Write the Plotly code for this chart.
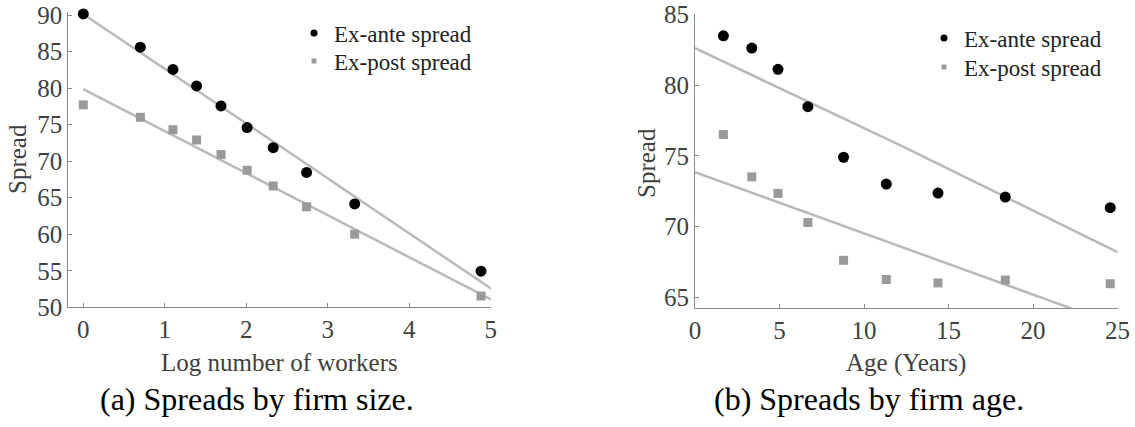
import plotly.graph_objects as go

# ---- Panel (a): spreads by firm size ----
size_x = [0.0, 0.70, 1.10, 1.39, 1.69, 2.01, 2.33, 2.74, 3.33, 4.88]
size_exante = [90.15, 85.6, 82.55, 80.3, 77.55, 74.6, 71.85, 68.45, 64.15, 54.95]
size_expost = [77.7, 76.0, 74.3, 72.9, 70.9, 68.75, 66.6, 63.75, 60.0, 51.55]
size_fit_x = [0.0, 2.48, 5.05]
size_fit_exante = [90.1, 71.55, 52.2]
size_fit_x2 = [0.0, 1.9, 5.05]
size_fit_expost = [79.86, 68.95, 50.8]

# ---- Panel (b): spreads by firm age ----
age_x = [1.68, 3.36, 4.91, 6.68, 8.79, 11.32, 14.38, 18.36, 24.57]
age_exante = [83.5, 82.63, 81.13, 78.48, 74.9, 73.0, 72.36, 72.08, 71.33]
age_expost = [76.51, 73.51, 72.34, 70.28, 67.6, 66.24, 66.0, 66.2, 65.94]
age_fit_x = [0.0, 12.5, 25.1]
age_fit_exante = [82.63, 75.55, 68.12]
age_fit_x2 = [0.0, 11.0, 22.81, 25.0]
age_fit_expost = [73.85, 69.1, 63.96, 63.0]

legend_names = ["Ex-ante spread", "Ex-post spread"]
captions = ["(a) Spreads by firm size.", "(b) Spreads by firm age."]
xtitles = ["Log number of workers", "Age (Years)"]
ytitle = "Spread"

W, H = 1135, 427
SERIF = "Liberation Serif, Times New Roman, serif"
LINE_C = "#b9b9b9"
SQ_C = "#9a9a9a"
AX_C = "#8a8a8a"
TXT_C = "#404040"

fig = go.Figure()


def add_panel(xa, ya, fx1, fy1, fx2, fy2, px, p1, p2, legs):
    fig.add_trace(go.Scatter(x=fx1, y=fy1, mode="lines", line=dict(color=LINE_C, width=2.5),
                             xaxis=xa, yaxis=ya, showlegend=False, hoverinfo="skip"))
    fig.add_trace(go.Scatter(x=fx2, y=fy2, mode="lines", line=dict(color=LINE_C, width=2.5),
                             xaxis=xa, yaxis=ya, showlegend=False, hoverinfo="skip"))
    fig.add_trace(go.Scatter(x=px, y=p2, mode="markers", cliponaxis=False,
                             marker=dict(symbol="square", size=9, color=SQ_C),
                             xaxis=xa, yaxis=ya, showlegend=False))
    fig.add_trace(go.Scatter(x=px, y=p1, mode="markers", cliponaxis=False,
                             marker=dict(symbol="circle", size=11, color="black"),
                             xaxis=xa, yaxis=ya, showlegend=False))
    # legend-only entries with small symbols
    fig.add_trace(go.Scatter(x=[None], y=[None], mode="markers", name=legend_names[0],
                             marker=dict(symbol="circle", size=7, color="black"),
                             xaxis=xa, yaxis=ya, legend=legs[0]))
    fig.add_trace(go.Scatter(x=[None], y=[None], mode="markers", name=legend_names[1],
                             marker=dict(symbol="square", size=5, color=SQ_C),
                             xaxis=xa, yaxis=ya, legend=legs[1]))


add_panel("x", "y", size_fit_x, size_fit_exante, size_fit_x2, size_fit_expost,
          size_x, size_exante, size_expost, ("legend", "legend2"))
add_panel("x2", "y2", age_fit_x, age_fit_exante, age_fit_x2, age_fit_expost,
          age_x, age_exante, age_expost, ("legend3", "legend4"))

axis_common = dict(showline=True, linecolor=AX_C, linewidth=1, ticks="inside", ticklen=4,
                   tickcolor=AX_C, tickwidth=1, showgrid=False, zeroline=False,
                   automargin=False, ticklabeloverflow="allow",
                   tickfont=dict(family=SERIF, size=25, color=TXT_C), fixedrange=True)


def px_x(p):
    return p / W


def px_y(p):
    return (H - p) / H


def leg(xc, yc):
    return dict(x=px_x(xc - 20), y=px_y(yc), xanchor="left", yanchor="middle",
                bgcolor="rgba(0,0,0,0)", borderwidth=0,
                font=dict(family=SERIF, size=23, color="#222222"))


fig.update_layout(
    template="none",
    width=W, height=H,
    margin=dict(l=0, r=0, t=0, b=0, pad=0),
    paper_bgcolor="white", plot_bgcolor="white",
    xaxis=dict(domain=[px_x(68.3), px_x(490.8)], range=[-0.184, 5.0],
               tickvals=[0, 1, 2, 3, 4, 5], anchor="y", **axis_common),
    yaxis=dict(domain=[px_y(307.3), px_y(12)], range=[50, 90.41],
               tickvals=[50, 55, 60, 65, 70, 75, 80, 85, 90], anchor="x", **axis_common),
    xaxis2=dict(domain=[px_x(695), px_x(1117.5)], range=[0, 25],
                tickvals=[0, 5, 10, 15, 20, 25], anchor="y2", **axis_common),
    yaxis2=dict(domain=[px_y(308.3), px_y(13.8)], range=[64.2, 85.06],
                tickvals=[65, 70, 75, 80, 85], anchor="x2", **axis_common),
    legend=leg(314, 33),
    legend2=leg(314, 61),
    legend3=leg(944, 38),
    legend4=leg(944, 67),
)

ann = []
# x axis titles
ann.append(dict(text=xtitles[0], x=px_x(279.5), y=px_y(362), xref="paper", yref="paper",
                showarrow=False, xanchor="center", yanchor="middle",
                font=dict(family=SERIF, size=25, color=TXT_C)))
ann.append(dict(text=xtitles[1], x=px_x(906), y=px_y(363), xref="paper", yref="paper",
                showarrow=False, xanchor="center", yanchor="middle",
                font=dict(family=SERIF, size=25, color=TXT_C)))
# y axis titles
ann.append(dict(text=ytitle, x=px_x(17), y=px_y(159), xref="paper", yref="paper",
                showarrow=False, xanchor="center", yanchor="middle", textangle=-90,
                font=dict(family=SERIF, size=25, color=TXT_C)))
ann.append(dict(text=ytitle, x=px_x(646), y=px_y(163), xref="paper", yref="paper",
                showarrow=False, xanchor="center", yanchor="middle", textangle=-90,
                font=dict(family=SERIF, size=25, color=TXT_C)))
# captions
ann.append(dict(text=captions[0], x=px_x(257), y=px_y(399), xref="paper", yref="paper",
                showarrow=False, xanchor="center", yanchor="middle",
                font=dict(family=SERIF, size=32, color="black")))
ann.append(dict(text=captions[1], x=px_x(869), y=px_y(399), xref="paper", yref="paper",
                showarrow=False, xanchor="center", yanchor="middle",
                font=dict(family=SERIF, size=32, color="black")))
fig.update_layout(annotations=ann)

fig.write_html("out.html", config={"displayModeBar": False},
               post_script="document.body.style.margin='0';document.body.style.overflow='hidden';")
